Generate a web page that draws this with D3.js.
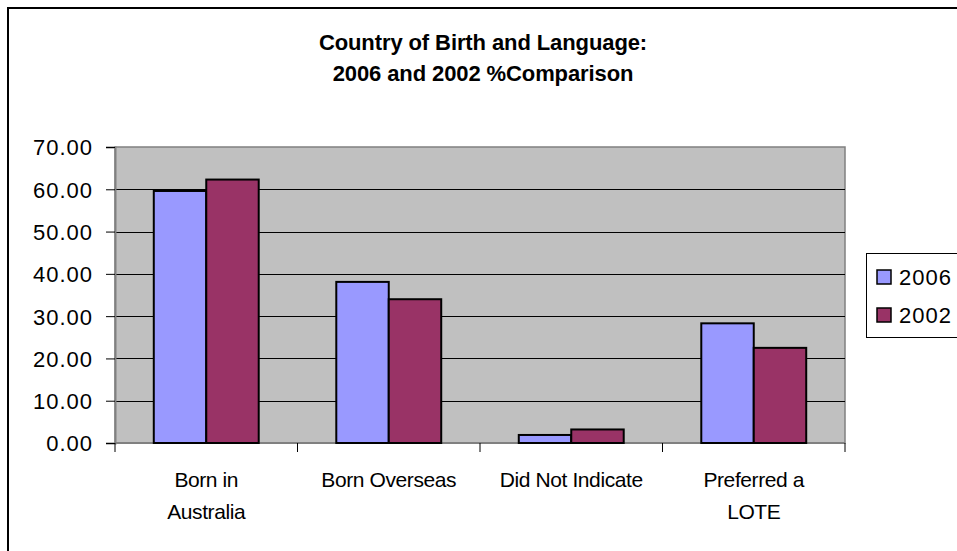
<!DOCTYPE html>
<html><head><meta charset="utf-8">
<script src="https://cdn.jsdelivr.net/npm/d3@7/dist/d3.min.js"></script>
<style>body{margin:0;background:#fff;} svg{display:block;font-family:Arial,"Liberation Sans",sans-serif;}</style>
</head><body>
<svg id="chart" width="957" height="551"></svg>
<script>
const categories = ["Born in Australia", "Born Overseas", "Did Not Indicate", "Preferred a LOTE"];
const categoryLines = [["Born in", "Australia"], ["Born Overseas"], ["Did Not Indicate"], ["Preferred a", "LOTE"]];
const seriesNames = ["2006", "2002"];
const values2006 = [59.6, 38.1, 1.9, 28.3];
const values2002 = [62.3, 34.0, 3.2, 22.5];
const yTicks = [0, 10, 20, 30, 40, 50, 60, 70];
const titleLines = ["Country of Birth and Language:", "2006 and 2002 %Comparison"];
const colors = ["#9999FF", "#993366"];

const svg = d3.select("#chart");
// outer chart border (extends beyond view)
svg.append("rect").attr("x", 8).attr("y", 8).attr("width", 970).attr("height", 560)
  .attr("fill", "#fff").attr("stroke", "#000").attr("stroke-width", 2);

const plot = {left: 115, right: 845, top: 147, bottom: 443};
const x0 = d3.scaleBand().domain(categories).range([plot.left, plot.right]).padding(0);
const bw = x0.bandwidth();
const x1 = d3.scaleBand().domain(seriesNames).range([bw * 0.2125, bw * 0.7875]).padding(0);
const y = d3.scaleLinear().domain([0, 70]).range([plot.bottom, plot.top]);

svg.append("rect").attr("x", plot.left).attr("y", plot.top)
  .attr("width", plot.right - plot.left).attr("height", plot.bottom - plot.top)
  .attr("fill", "#C0C0C0").attr("stroke", "#808080").attr("stroke-width", 1.5);

// gridlines
svg.append("g").selectAll("line").data(yTicks.filter(d => d > 0 && d < 70)).join("line")
  .attr("x1", plot.left).attr("x2", plot.right)
  .attr("y1", d => Math.round(y(d)) + 0.5).attr("y2", d => Math.round(y(d)) + 0.5)
  .attr("stroke", "#000").attr("stroke-width", 1);

// y axis
const yAxis = d3.axisLeft(y).tickValues(yTicks).tickFormat(d3.format(".2f")).tickSize(9).tickPadding(13);
const gy = svg.append("g").attr("transform", `translate(${plot.left},0)`).call(yAxis);
gy.select(".domain").attr("stroke", "#808080").attr("stroke-width", 2);
gy.selectAll(".tick line").attr("stroke", "#000");
gy.selectAll(".tick text").attr("fill", "#000").style("font-size", "22px")
  .style("letter-spacing", "1px").attr("dy", "0.36em");

// x axis
const boundaries = categories.map(c => x0(c)).concat([plot.right]);
const gx = svg.append("g");
gx.append("line").attr("x1", plot.left).attr("x2", plot.right)
  .attr("y1", plot.bottom).attr("y2", plot.bottom).attr("stroke", "#808080").attr("stroke-width", 2);
gx.selectAll("line.tk").data(boundaries).join("line").attr("class", "tk")
  .attr("x1", d => d).attr("x2", d => d).attr("y1", plot.bottom).attr("y2", plot.bottom + 9)
  .attr("stroke", "#000");
categories.forEach((c, i) => {
  const t = gx.append("text").attr("x", x0(c) + bw / 2).attr("y", 487)
    .attr("text-anchor", "middle").style("font-size", "21px").style("letter-spacing", "-0.4px").attr("fill", "#000");
  categoryLines[i].forEach((ln, j) => {
    t.append("tspan").attr("x", x0(c) + bw / 2).attr("dy", j === 0 ? 0 : 32).text(ln);
  });
});

// bars
const data = categories.map((c, i) => ({cat: c, vals: [values2006[i], values2002[i]]}));
const groups = svg.append("g").selectAll("g").data(data).join("g")
  .attr("transform", d => `translate(${x0(d.cat)},0)`);
groups.selectAll("rect").data(d => d.vals.map((v, k) => ({name: seriesNames[k], v, k}))).join("rect")
  .attr("x", d => x1(d.name)).attr("y", d => y(d.v))
  .attr("width", x1.bandwidth()).attr("height", d => y(0) - y(d.v))
  .attr("fill", d => colors[d.k]).attr("stroke", "#000").attr("stroke-width", 2);

// title
const title = svg.append("text").attr("text-anchor", "middle").attr("x", 483).attr("y", 50)
  .style("font-size", "22px").style("font-weight", "bold").style("letter-spacing", "-0.1px").attr("fill", "#000");
titleLines.forEach((ln, j) => title.append("tspan").attr("x", 483).attr("dy", j === 0 ? 0 : 31).text(ln));

// legend
const lg = svg.append("g");
lg.append("rect").attr("x", 866.5).attr("y", 253.5).attr("width", 100).attr("height", 84)
  .attr("fill", "#fff").attr("stroke", "#000").attr("stroke-width", 1);
seriesNames.forEach((s, i) => {
  const cy = 277 + i * 38;
  lg.append("rect").attr("x", 877).attr("y", cy - 7).attr("width", 14).attr("height", 14)
    .attr("fill", colors[i]).attr("stroke", "#000").attr("stroke-width", 1.5);
  lg.append("text").attr("x", 899).attr("y", cy).attr("dy", "0.36em")
    .style("font-size", "22px").style("letter-spacing", "1px").attr("fill", "#000").text(s);
});
</script>
</body></html>
